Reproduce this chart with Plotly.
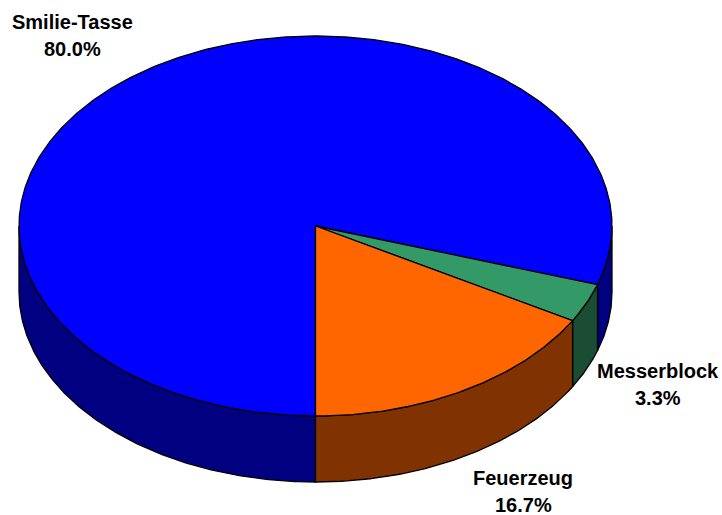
import numpy as np
import plotly.graph_objects as go

categories = ["Smilie-Tasse", "Messerblock", "Feuerzeug"]
values = [80.0, 3.3, 16.7]
top_colors = ["#0000FF", "#339966", "#FF6600"]
side_colors = ["#000080", "#1A4D33", "#803300"]
label_pos = [(72.5, 22), (658, 371), (523, 478)]
LABEL_GAP = 27

CX, CY, RX, RY, DEPTH = 315.5, 226, 296.5, 190, 66
START = 90.0  # degrees measured on screen, y pointing down: 6 o'clock

fig = go.Figure()
total = sum(values)
a = START
spans = []
for v in values:
    b = a + v / total * 360
    spans.append((a, b))
    a = b


def arc(a0, a1):
    t = np.radians(np.linspace(a0, a1, max(int(abs(a1 - a0) * 2), 2)))
    return CX + RX * np.cos(t), CY + RY * np.sin(t)


LINE = dict(color="black", width=1.3)
# side walls: visible part is the front half (0..180 on screen, mod 360)
for (a0, a1), col in zip(spans, side_colors):
    for k in (0, 360, -360):
        lo, hi = max(a0 + k, 0), min(a1 + k, 180)
        if hi > lo:
            x, y = arc(lo, hi)
            fig.add_trace(go.Scatter(
                x=np.r_[x, x[::-1], x[0]], y=np.r_[y, y[::-1] + DEPTH, y[0]],
                mode="lines", fill="toself", fillcolor=col, line=LINE, hoverinfo="skip"))
# top faces
for (a0, a1), col in zip(spans, top_colors):
    x, y = arc(a0, a1)
    fig.add_trace(go.Scatter(
        x=np.r_[CX, x, CX], y=np.r_[CY, y, CY],
        mode="lines", fill="toself", fillcolor=col, line=LINE, hoverinfo="skip"))

for name, v, (lx, ly) in zip(categories, values, label_pos):
    for text, yy in ((name, ly), (f"{v:.1f}%", ly + LABEL_GAP)):
        fig.add_annotation(x=lx, y=yy, text=f"<b>{text}</b>", showarrow=False,
                           font=dict(family="Liberation Sans", size=20, color="black"),
                           align="center", xanchor="center", yanchor="middle")

fig.update_layout(
    width=722, height=515, margin=dict(l=0, r=0, t=0, b=0), showlegend=False,
    paper_bgcolor="white", plot_bgcolor="white",
    xaxis=dict(range=[0, 722], visible=False, fixedrange=True),
    yaxis=dict(range=[515, 0], visible=False, fixedrange=True),
)
fig.write_html("out.html", config=dict(displayModeBar=False),
               post_script="document.body.style.margin='0';document.documentElement.style.overflow='hidden';")
